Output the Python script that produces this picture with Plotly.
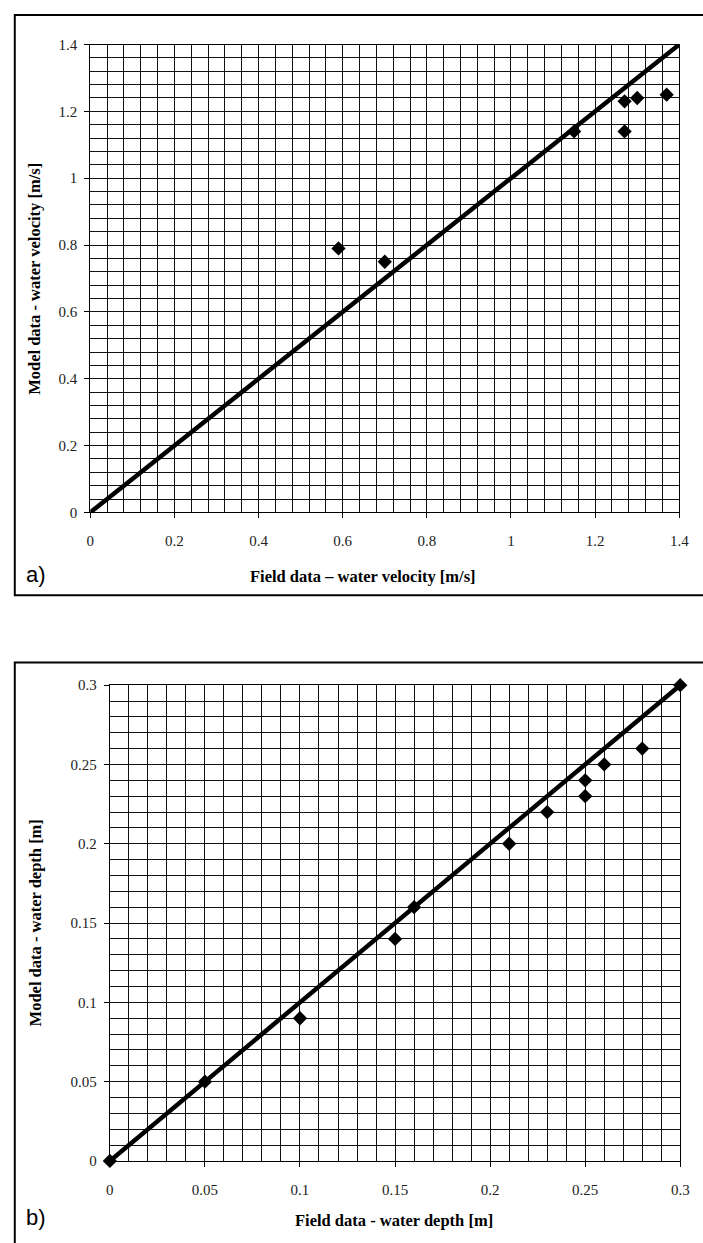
import plotly.graph_objects as go

# Panel a) water velocity [m/s]
vel_field = [0.59, 0.70, 1.15, 1.27, 1.27, 1.30, 1.37]
vel_model = [0.79, 0.75, 1.14, 1.23, 1.14, 1.24, 1.25]
vel_line = [0.0, 1.4]

# Panel b) water depth [m]
depth_field = [0.00, 0.05, 0.10, 0.15, 0.16, 0.21, 0.23, 0.25, 0.25, 0.26, 0.28, 0.30]
depth_model = [0.00, 0.05, 0.09, 0.14, 0.16, 0.20, 0.22, 0.24, 0.23, 0.25, 0.26, 0.30]
depth_line = [0.0, 0.3]

W, H = 703, 1243


def px(x):
    return x / W


def py(y):
    return 1 - y / H


fig = go.Figure()

# 1:1 reference lines and measured points
fig.add_trace(go.Scatter(x=vel_line, y=vel_line, mode="lines",
                         line=dict(color="black", width=4.5),
                         xaxis="x", yaxis="y", cliponaxis=False, showlegend=False))
fig.add_trace(go.Scatter(x=vel_field, y=vel_model, mode="markers",
                         marker=dict(symbol="diamond", size=11, color="black"),
                         xaxis="x", yaxis="y", cliponaxis=False, showlegend=False))
fig.add_trace(go.Scatter(x=depth_line, y=depth_line, mode="lines",
                         line=dict(color="black", width=4.5),
                         xaxis="x2", yaxis="y2", cliponaxis=False, showlegend=False))
fig.add_trace(go.Scatter(x=depth_field, y=depth_model, mode="markers",
                         marker=dict(symbol="diamond", size=11, color="black"),
                         xaxis="x2", yaxis="y2", cliponaxis=False, showlegend=False))

tick_font = dict(family="Liberation Serif", size=15, color="#222")
title_font = dict(family="Liberation Serif", size=16.5, color="black")
grid_col = "#111"


def axis(rng, dtick, minor, domain, anchor, side_y=False):
    return dict(
        range=rng, dtick=dtick, tick0=0, domain=domain, anchor=anchor,
        showgrid=True, gridcolor=grid_col, gridwidth=1,
        minor=dict(dtick=minor, tick0=0, showgrid=True, gridcolor=grid_col, gridwidth=1),
        showline=True, linecolor="black", linewidth=1, mirror=True,
        ticks="outside", ticklen=5, tickcolor="black",
        tickfont=tick_font, zeroline=False,
        ticklabelstandoff=4 if side_y else 10,
        fixedrange=True,
    )


fig.update_layout(
    width=W, height=H,
    margin=dict(l=0, r=0, t=0, b=0),
    paper_bgcolor="white", plot_bgcolor="white",
    xaxis=axis([0, 1.4], 0.2, 0.04, [px(88), px(689)], "y"),
    yaxis=axis([0, 1.4], 0.2, 0.04, [py(511), py(37)], "x", True),
    xaxis2=axis([0, 0.3], 0.05, 0.01, [px(108), px(690)], "y2"),
    yaxis2=axis([0, 0.3], 0.05, 0.01, [py(1168), py(686)], "x2", True),
)

# Frames around each panel
fig.add_shape(type="rect", xref="paper", yref="paper",
              x0=px(11), x1=1.02, y0=py(595), y1=py(7),
              line=dict(color="black", width=2))
fig.add_shape(type="rect", xref="paper", yref="paper",
              x0=px(11), x1=1.02, y0=-0.02, y1=py(663),
              line=dict(color="black", width=2))


def label(text, x, y, angle=0, font=title_font, xanchor="center"):
    fig.add_annotation(text=text, xref="paper", yref="paper", x=px(x), y=py(y),
                       xanchor=xanchor, yanchor="middle", showarrow=False,
                       font=font, textangle=angle)


# Axis titles
label("<b>Field data – water velocity [m/s]</b>", 366, 576)
label("<b>Model data - water velocity [m/s]</b>", 31, 274, -90)
label("<b>Field data - water depth [m]</b>", 398, 1228)
label("<b>Model data - water depth [m]</b>", 32, 927, -90)

# Panel letters
panel_font = dict(family="Liberation Sans", size=22, color="black")
label("a)", 20, 574, font=panel_font, xanchor="left")
label("b)", 20, 1225, font=panel_font, xanchor="left")

fig.write_html("out.html")
